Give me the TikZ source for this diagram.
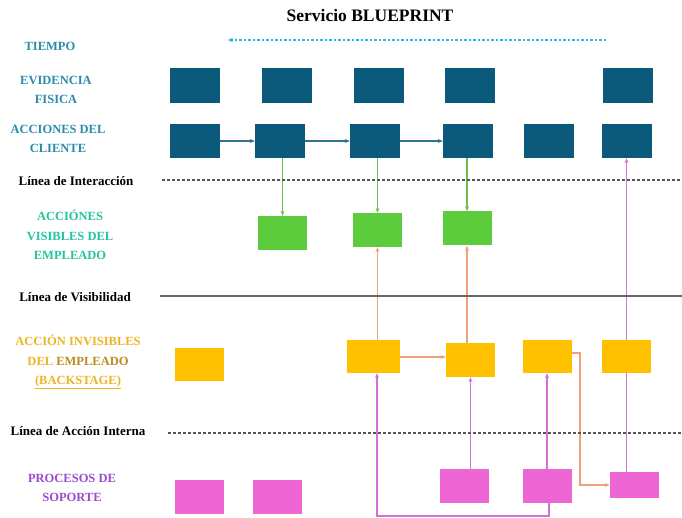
\documentclass[tikz,border=0pt]{standalone}
\usepackage{fontspec}
\setmainfont{Liberation Serif}
\usetikzlibrary{arrows.meta,backgrounds}

\definecolor{boxblue}{HTML}{0B5A7C}
\definecolor{lblblue}{HTML}{2A8BAA}
\definecolor{timecyan}{HTML}{2BB8E2}
\definecolor{boxgreen}{HTML}{5CCB3C}
\definecolor{lblgreen}{HTML}{22C49C}
\definecolor{arrgreen}{HTML}{6DBF50}
\definecolor{boxyellow}{HTML}{FFC000}
\definecolor{lblgold}{HTML}{EDB525}
\definecolor{lbldarkgold}{HTML}{B88C18}
\definecolor{arrorange}{HTML}{F2A07A}
\definecolor{boxpink}{HTML}{EE66D4}
\definecolor{arrpink}{HTML}{D372D6}
\definecolor{lblpurple}{HTML}{9A4ACB}
\definecolor{linegray}{HTML}{555555}

\tikzset{
  cell/.style={rectangle, inner sep=0pt, minimum width=50pt, minimum height=35pt},
  evbox/.style={cell, fill=boxblue},
  clbox/.style={cell, fill=boxblue, minimum height=34pt},
  grbox/.style={cell, fill=boxgreen, minimum width=49pt, minimum height=34pt},
  yebox/.style={cell, fill=boxyellow, minimum width=49pt, minimum height=33pt},
  pkbox/.style={cell, fill=boxpink, minimum width=49pt, minimum height=34pt},
  rowlabel/.style={font=\bfseries\fontsize{12.5}{19.5}\selectfont, align=center, inner sep=0pt},
  linelabel/.style={font=\bfseries\fontsize{13}{15}\selectfont, text=black, inner sep=0pt},
  tip/.style={-{Stealth[length=5pt,width=4pt]}},
  flowblue/.style={tip, draw=boxblue!85, line width=1.1pt},
  flowgreen/.style={tip, draw=arrgreen, line width=1.1pt},
  floworange/.style={tip, draw=arrorange, line width=1.1pt},
  flowpink/.style={tip, draw=arrpink, line width=1.1pt},
  divider/.style={draw=linegray, line width=1.2pt, dash pattern=on 2.5pt off 2.5pt},
}

\begin{document}
\begin{tikzpicture}[x=1pt, y=-1pt]
\useasboundingbox (0,0) rectangle (682,518);

% title
\node[font=\bfseries\fontsize{17.5}{20}\selectfont] (title) at (370,16) {Servicio BLUEPRINT};

% row labels
\node[rowlabel, text=lblblue] (ltime) at (50,46) {TIEMPO};
\node[rowlabel, text=lblblue] (lev) at (56,90) {EVIDENCIA\\FISICA};
\node[rowlabel, text=lblblue] (lcl) at (58,139) {ACCIONES DEL\\CLIENTE};
\node[rowlabel, text=lblgreen] (lvis) at (70,235) {ACCIÓNES\\VISIBLES DEL\\EMPLEADO};
\node[rowlabel, text=lblgold] (linv) at (78,362) {ACCIÓN INVISIBLES\\DEL \textcolor{lbldarkgold}{EMPLEADO}\\\underline{(BACKSTAGE)}};
\node[rowlabel, text=lblpurple] (lsup) at (72,488) {PROCESOS DE\\SOPORTE};

% line labels and dividing lines
\node[linelabel] (linter) at (76,181) {Línea de Interacción};
\node[linelabel] (lvisib) at (75,297) {Línea de Visibilidad};
\node[linelabel] (linterna) at (78,431) {Línea de Acción Interna};
\coordinate (dint0) at (162,180);   \coordinate (dint1) at (682,180);
\coordinate (dvis0) at (160,296);   \coordinate (dvis1) at (682,296);
\coordinate (dai0) at (168,433);    \coordinate (dai1) at (682,433);
\draw[divider] (dint0) -- (dint1);
\draw[draw=linegray!90, line width=1.5pt] (dvis0) -- (dvis1);
\draw[divider] (dai0) -- (dai1);

% time axis
\coordinate (t0) at (606,40);
\coordinate (t1) at (228,40);
\draw[draw=timecyan, line width=1.3pt, dash pattern=on 2.5pt off 2pt,
      -{Stealth[length=5pt,width=4.5pt]}] (t0) -- (t1);

% physical evidence
\node[evbox] (e1) at (195,85.5) {};
\node[evbox] (e2) at (287,85.5) {};
\node[evbox] (e3) at (379,85.5) {};
\node[evbox] (e4) at (469.5,85.5) {};
\node[evbox] (e5) at (627.5,85.5) {};

% customer actions
\node[clbox] (c1) at (195,141) {};
\node[clbox] (c2) at (280,141) {};
\node[clbox] (c3) at (375,141) {};
\node[clbox] (c4) at (468,141) {};
\node[clbox] (c5) at (548.5,141) {};
\node[clbox] (c6) at (626.5,141) {};

% visible employee actions
\node[grbox] (g1) at (282.5,233) {};
\node[grbox] (g2) at (377.5,230) {};
\node[grbox] (g3) at (467,228.5) {};

% backstage actions
\node[yebox] (y1) at (199,364.5) {};
\node[yebox, minimum width=53pt] (y2) at (373.5,356.5) {};
\node[yebox, minimum height=34pt] (y3) at (470.5,360) {};
\node[yebox] (y4) at (547,356.5) {};
\node[yebox] (y5) at (626.5,356.5) {};

% support processes
\node[pkbox] (p1) at (199,496.5) {};
\node[pkbox] (p2) at (277.5,496.5) {};
\node[pkbox] (p3) at (464,486) {};
\node[pkbox] (p4) at (547,486) {};
\node[pkbox, minimum height=26pt] (p5) at (634.5,485) {};

\begin{scope}[on background layer]
  % customer flow
  \draw[flowblue] (c1) -- (c2);
  \draw[flowblue] (c2) -- (c3);
  \draw[flowblue] (c3) -- (c4);
  % customer to front stage
  \draw[flowgreen] (c2.south -| g1) -- (g1.north);
  \draw[flowgreen] (c3.south -| g2) -- (g2.north);
  \draw[flowgreen] (c4.south -| g3) -- (g3.north);
  % backstage to front stage
  \draw[floworange] (y2.north -| g2) -- (g2.south);
  \draw[floworange] (y3.north -| g3) -- (g3.south);
  \coordinate (m1) at (400,357);
  \draw[floworange] (y2.east |- m1) -- (y3.west |- m1);
  \coordinate (o1) at (580,353);
  \coordinate (o2) at (580,485);
  \draw[floworange] (y4.east |- o1) -- (o1) -- (o2) -- (p5.west |- o2);
  % support to backstage and customer
  \draw[flowpink] (p3.north -| y3) -- (y3.south);
  \draw[flowpink] (p4.north -| y4) -- (y4.south);
  \coordinate (b1) at (549,516);
  \coordinate (b2) at (377,516);
  \draw[flowpink] (p4.south -| b1) -- (b1) -- (b2) -- (y2.south -| b2);
  \draw[flowpink] (p5.north -| c6) -- (c6.south);
\end{scope}
\end{tikzpicture}
\end{document}
